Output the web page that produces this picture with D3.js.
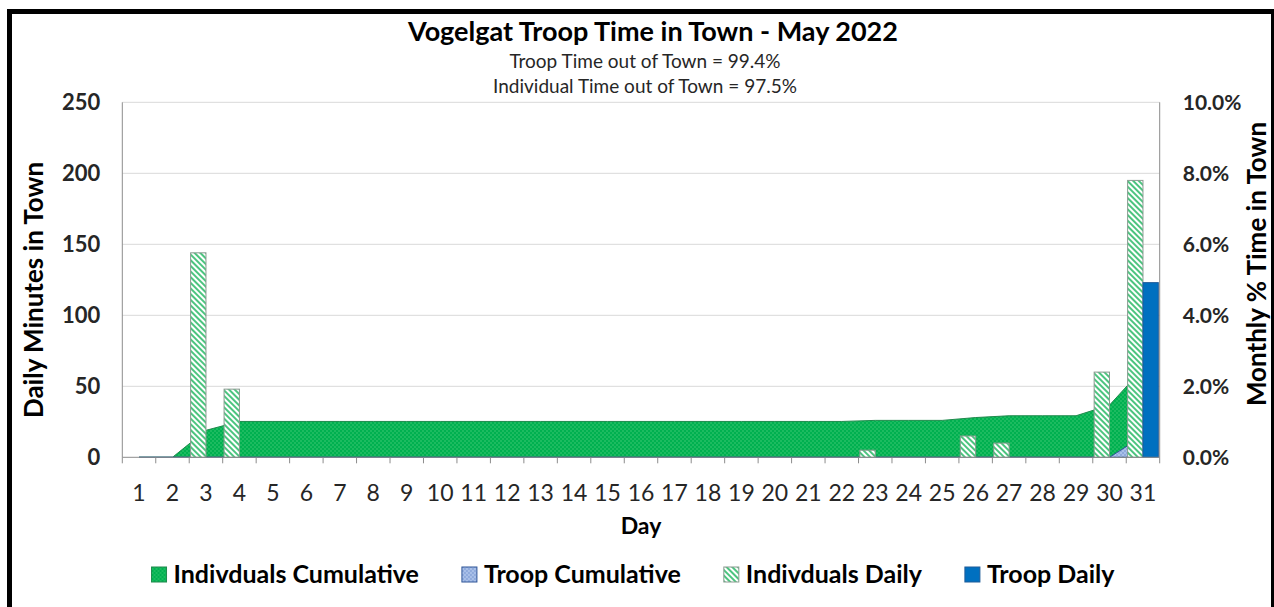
<!DOCTYPE html>
<html>
<head>
<meta charset="utf-8">
<script src="https://cdn.jsdelivr.net/npm/d3@7"></script>
<style>
  body { margin: 0; background: #fff; }
  text { font-family: Lato, "Open Sans", sans-serif; }
</style>
</head>
<body>
<svg id="chart" width="1274" height="607"></svg>
<script>
var days = [1, 2, 3, 4, 5, 6, 7, 8, 9, 10, 11, 12, 13, 14, 15, 16, 17, 18, 19, 20, 21, 22, 23, 24, 25, 26, 27, 28, 29, 30, 31];
// daily minutes in town
var indivDaily = [0, 0, 144, 48, 0, 0, 0, 0, 0, 0, 0, 0, 0, 0, 0, 0, 0, 0, 0, 0, 0, 0, 5, 0, 0, 15, 10, 0, 0, 60, 195];
var troopDaily = [0, 0, 0, 0, 0, 0, 0, 0, 0, 0, 0, 0, 0, 0, 0, 0, 0, 0, 0, 0, 0, 0, 0, 0, 0, 0, 0, 0, 0, 0, 123];
// monthly % time in town (cumulative)
var indivCum = [0, 0, 0.0076, 0.0101, 0.0101, 0.0101, 0.0101, 0.0101, 0.0101, 0.0101, 0.0101, 0.0101, 0.0101, 0.0101, 0.0101, 0.0101,
  0.0101, 0.0101, 0.0101, 0.0101, 0.0101, 0.0101, 0.0104, 0.0104, 0.0104, 0.0112, 0.0117, 0.0117, 0.0117, 0.0147, 0.025];
var troopCum = [0, 0, 0, 0, 0, 0, 0, 0, 0, 0, 0, 0, 0, 0, 0, 0, 0, 0, 0, 0, 0, 0, 0, 0, 0, 0, 0, 0, 0, 0, 0.006];
var leftTicks = [0, 50, 100, 150, 200, 250];
var rightTicks = [0, 0.02, 0.04, 0.06, 0.08, 0.10];
var legendNames = ["Indivduals Cumulative", "Troop Cumulative", "Indivduals Daily", "Troop Daily"];

var title = "Vogelgat Troop Time in Town - May 2022";
var subtitles = ["Troop Time out of Town = 99.4%", "Individual Time out of Town = 97.5%"];

var plot = { left: 122.3, right: 1159.7, top: 102.3, bottom: 457.3 };

var svg = d3.select("#chart");

// patterns
var defs = svg.append("defs");
var pg = defs.append("pattern").attr("id", "dotGreen").attr("patternUnits", "userSpaceOnUse")
  .attr("width", 4).attr("height", 4);
pg.append("rect").attr("width", 4).attr("height", 4).attr("fill", "#00b050");
pg.append("rect").attr("width", 2).attr("height", 2).attr("fill", "#1cbb60");
pg.append("rect").attr("x", 2).attr("y", 2).attr("width", 2).attr("height", 2).attr("fill", "#1cbb60");

var pb = defs.append("pattern").attr("id", "dotBlue").attr("patternUnits", "userSpaceOnUse")
  .attr("width", 4).attr("height", 4);
pb.append("rect").attr("width", 4).attr("height", 4).attr("fill", "#8faadc");
pb.append("rect").attr("width", 2).attr("height", 2).attr("fill", "#a9c0e8");
pb.append("rect").attr("x", 2).attr("y", 2).attr("width", 2).attr("height", 2).attr("fill", "#a9c0e8");

var ph = defs.append("pattern").attr("id", "hatch").attr("patternUnits", "userSpaceOnUse")
  .attr("width", 4).attr("height", 4).attr("patternTransform", "rotate(-45)");
ph.append("rect").attr("width", 4).attr("height", 4).attr("fill", "#ffffff");
ph.append("rect").attr("width", 2).attr("height", 4).attr("fill", "#4cc47f");

// border
svg.append("rect")
  .attr("x", 9.5).attr("y", 11.5)
  .attr("width", 1264).attr("height", 600)
  .attr("fill", "none").attr("stroke", "#000").attr("stroke-width", 5);

// scales
var x = d3.scaleBand().domain(days).range([plot.left, plot.right]).padding(0);
var xSub = d3.scaleBand().domain(["indiv", "troop"]).range([0, x.bandwidth()])
  .paddingInner(0).paddingOuter(0.09);
var y = d3.scaleLinear().domain([0, 250]).range([plot.bottom, plot.top]);
var y2 = d3.scaleLinear().domain([0, 0.10]).range([plot.bottom, plot.top]);

// gridlines
svg.append("g").selectAll("line")
  .data(leftTicks.slice(1))
  .enter().append("line")
  .attr("x1", plot.left).attr("x2", plot.right)
  .attr("y1", d => y(d)).attr("y2", d => y(d))
  .attr("stroke", "#d9d9d9").attr("stroke-width", 1);

// areas (secondary axis)
var area = d3.area()
  .x((d, i) => x(days[i]) + x.bandwidth() / 2)
  .y0(y2(0))
  .y1(d => y2(d));

svg.append("path").datum(indivCum)
  .attr("d", area)
  .attr("fill", "url(#dotGreen)")
  .attr("stroke", "#1f8a4c").attr("stroke-width", 1);

svg.append("path").datum(troopCum)
  .attr("d", area)
  .attr("fill", "url(#dotBlue)")
  .attr("stroke", "#2f5597").attr("stroke-width", 1);

// bars
var barData = days.map(function (d, i) {
  return { day: d, items: [{ key: "indiv", value: indivDaily[i] }, { key: "troop", value: troopDaily[i] }] };
});

svg.append("g").selectAll("g")
  .data(barData)
  .enter().append("g")
  .attr("transform", d => "translate(" + x(d.day) + ",0)")
  .selectAll("rect")
  .data(d => d.items.filter(it => it.value > 0))
  .enter().append("rect")
  .attr("x", d => xSub(d.key))
  .attr("y", d => y(d.value))
  .attr("width", xSub.bandwidth())
  .attr("height", d => y(0) - y(d.value))
  .attr("fill", d => d.key === "indiv" ? "url(#hatch)" : "#0070c0")
  .attr("stroke", d => d.key === "indiv" ? "#8a9a90" : "#1f5c99")
  .attr("stroke-width", 1);

// axis lines
var axisColor = "#8c8c8c";
svg.append("line").attr("x1", plot.left).attr("x2", plot.left)
  .attr("y1", plot.top).attr("y2", plot.bottom).attr("stroke", axisColor);
svg.append("line").attr("x1", plot.right).attr("x2", plot.right)
  .attr("y1", plot.top).attr("y2", plot.bottom).attr("stroke", axisColor);
svg.append("line").attr("x1", plot.left).attr("x2", plot.right)
  .attr("y1", plot.bottom).attr("y2", plot.bottom).attr("stroke", axisColor);

// category boundary ticks
var boundaries = days.map(d => x(d)).concat([plot.right]);
svg.append("g").selectAll("line")
  .data(boundaries)
  .enter().append("line")
  .attr("x1", d => d).attr("x2", d => d)
  .attr("y1", plot.bottom).attr("y2", plot.bottom + 6)
  .attr("stroke", axisColor);

// x tick labels
var xAxis = svg.append("g")
  .attr("transform", "translate(0," + plot.bottom + ")")
  .call(d3.axisBottom(x).tickSize(0).tickPadding(44));
xAxis.select(".domain").remove();
xAxis.selectAll("text")
  .attr("dy", 0)
  .style("font-family", "Lato, sans-serif")
  .style("font-size", "23px")
  .attr("fill", "#262626");

// left axis labels
var yAxis = svg.append("g")
  .attr("transform", "translate(" + plot.left + ",0)")
  .call(d3.axisLeft(y).tickValues(leftTicks).tickSize(0).tickPadding(22));
yAxis.select(".domain").remove();
yAxis.selectAll("text")
  .style("font-family", "Lato, sans-serif")
  .style("font-size", "22px").style("font-weight", "bold")
  .attr("fill", "#262626");

// right axis labels
var y2Axis = svg.append("g")
  .attr("transform", "translate(" + plot.right + ",0)")
  .call(d3.axisRight(y2).tickValues(rightTicks).tickSize(0).tickPadding(23).tickFormat(d3.format(".1%")));
y2Axis.select(".domain").remove();
y2Axis.selectAll("text")
  .style("font-family", "Lato, sans-serif")
  .style("font-size", "21px").style("font-weight", "bold")
  .attr("fill", "#262626");

// titles
svg.append("text")
  .attr("x", 653).attr("y", 41)
  .attr("text-anchor", "middle")
  .style("font-size", "27px").style("font-weight", "bold")
  .attr("fill", "#000")
  .text(title);

svg.selectAll(".subtitle")
  .data(subtitles)
  .enter().append("text")
  .attr("class", "subtitle")
  .attr("x", 645).attr("y", (d, i) => 68 + i * 25)
  .attr("text-anchor", "middle")
  .style("font-size", "19px")
  .attr("fill", "#262626")
  .text(d => d);

svg.append("text")
  .attr("x", 641).attr("y", 534)
  .attr("text-anchor", "middle")
  .style("font-size", "23px").style("font-weight", "bold")
  .attr("fill", "#000")
  .text("Day");

svg.append("text")
  .attr("transform", "translate(43,290) rotate(-90)")
  .attr("text-anchor", "middle")
  .style("font-size", "26px").style("font-weight", "bold")
  .attr("fill", "#000")
  .text("Daily Minutes in Town");

svg.append("text")
  .attr("transform", "translate(1266,264) rotate(-90)")
  .attr("text-anchor", "middle")
  .style("font-size", "26px").style("font-weight", "bold")
  .attr("fill", "#000")
  .text("Monthly % Time in Town");

// legend
var legendFills = ["url(#dotGreen)", "url(#dotBlue)", "url(#hatch)", "#0070c0"];
var legendStrokes = ["#1f8a4c", "#2f5597", "#8a9a90", "#1f5c99"];
var legend = svg.append("g");
var items = legend.selectAll("g")
  .data(legendNames)
  .enter().append("g");
items.append("rect")
  .attr("width", 15).attr("height", 15)
  .attr("y", 567)
  .attr("fill", (d, i) => legendFills[i])
  .attr("stroke", (d, i) => legendStrokes[i]);
items.append("text")
  .attr("x", 22).attr("y", 583)
  .style("font-size", "25px").style("font-weight", "bold")
  .attr("fill", "#000")
  .text(d => d);

var cursor = 0;
items.each(function () {
  var g = d3.select(this);
  g.attr("transform", "translate(" + cursor + ",0)");
  cursor += 22 + g.select("text").node().getComputedTextLength() + 43;
});
var total = cursor - 43;
legend.attr("transform", "translate(" + (633 - total / 2) + ",0)");
</script>
</body>
</html>
